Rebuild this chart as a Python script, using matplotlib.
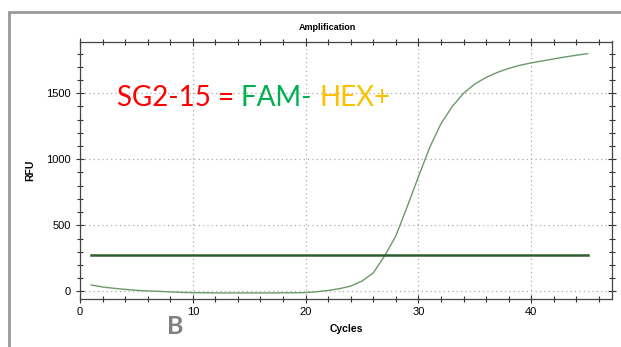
import numpy as np
import matplotlib.pyplot as plt
from matplotlib.patches import Rectangle
from matplotlib.ticker import MultipleLocator

# ciclos e fluorescencia
ciclos = list(range(1, 46))
rfu = [48, 33, 23, 15, 8, 3, 0, -4, -8, -10,
       -11, -12, -12, -12, -12, -12, -12, -11, -11, -9,
       -3, 7, 20, 40, 78, 140, 268, 420, 640, 868,
       1090, 1270, 1400, 1500, 1570, 1620, 1658, 1688, 1712, 1730,
       1745, 1760, 1775, 1788, 1800]
limiar = 275
limiar_x = [1, 45]

plt.rcParams['font.family'] = ['Liberation Sans', 'DejaVu Sans']

fig = plt.figure(figsize=(6.21, 3.47), dpi=100)

# moldura cinza em volta
fig.patches.append(Rectangle((9 / 621, -0.1), 1.2, (347 - 12) / 347 + 0.1,
                             transform=fig.transFigure, fill=False,
                             edgecolor='#999999', linewidth=2))

ax = fig.add_axes([80 / 621, 48 / 347, 532 / 621, 257.5 / 347])

ax.plot(ciclos, rfu, color='#6a9a6a', linewidth=1.0)
ax.plot(limiar_x, [limiar, limiar], color='#2e5e2e', linewidth=1.8)

ax.set_xlim(0, 47.16)
ax.set_ylim(-58, 1892)

ax.xaxis.set_major_locator(MultipleLocator(10))
ax.xaxis.set_minor_locator(MultipleLocator(2))
ax.yaxis.set_major_locator(MultipleLocator(500))
ax.yaxis.set_minor_locator(MultipleLocator(100))

ax.tick_params(which='both', direction='inout', top=True, right=True,
               labelsize=8, color='#333333', width=0.8)
ax.tick_params(which='major', length=6)
ax.tick_params(which='minor', length=5)
ax.tick_params(axis='x', which='both', pad=3)

ax.grid(True, which='major', linestyle=(0, (1, 2.5)), color='#aaaaaa',
        linewidth=0.9)

for s in ax.spines.values():
    s.set_color('#444444')
    s.set_linewidth(0.9)

ax.set_xlabel('Cycles', fontsize=7.5, fontweight='bold', labelpad=5)
ax.set_ylabel('RFU', fontsize=7.5, fontweight='bold', labelpad=8)

fig.text(327 / 621, 1 - 28 / 347, 'Amplification', fontsize=6.5,
         fontweight='bold', ha='center', va='center')

# anotacao
tam = 20
t1 = ax.text(3.3, 1465, 'SG2-15 = ', color='#ff0000', fontsize=tam,
             family=['Lato', 'DejaVu Sans'], va='center')
fig.canvas.draw()
t2 = ax.annotate('FAM- ', xycoords=t1, xy=(1, 0), va='bottom',
                 color='#00b050', fontsize=tam,
                 family=['Lato', 'DejaVu Sans'])
fig.canvas.draw()
ax.annotate('HEX+', xycoords=t2, xy=(1, 0), va='bottom',
            color='#ffc000', fontsize=tam, family=['Lato', 'DejaVu Sans'])

fig.text(175 / 621, 1 - 327 / 347, 'B', color='#808080', fontsize=18,
         fontweight='bold', ha='center', va='center',
         family=['Lato', 'DejaVu Sans'])

fig.savefig('out.png', dpi=100)
